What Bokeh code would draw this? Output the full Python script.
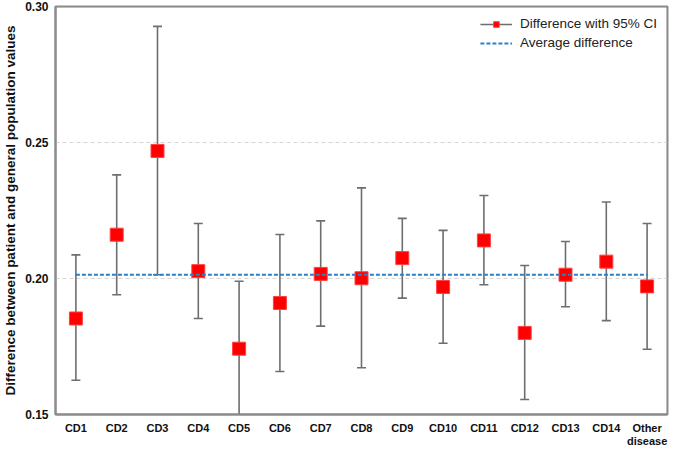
from bokeh.plotting import figure
from bokeh.models import (ColumnDataSource, Whisker, TeeHead, Legend, LegendItem,
                          FixedTicker, NumeralTickFormatter, FactorRange, Range1d, BoxAnnotation)
from bokeh.embed import file_html
from bokeh.resources import INLINE

categories = ["CD1", "CD2", "CD3", "CD4", "CD5", "CD6", "CD7", "CD8", "CD9", "CD10",
              "CD11", "CD12", "CD13", "CD14", "Other\ndisease"]
difference = [0.1853, 0.2161, 0.2469, 0.2027, 0.1742, 0.1910, 0.2017, 0.2001, 0.2075, 0.1969,
              0.2140, 0.1800, 0.2014, 0.2062, 0.1971]
ci_lower = [0.1626, 0.1940, 0.2014, 0.1853, 0.1440, 0.1658, 0.1825, 0.1672, 0.1928, 0.1762,
            0.1977, 0.1555, 0.1896, 0.1845, 0.1740]
ci_upper = [0.2087, 0.2381, 0.2927, 0.2202, 0.1990, 0.2162, 0.2212, 0.2333, 0.2221, 0.2177,
            0.2305, 0.2048, 0.2136, 0.2281, 0.2202]
average_difference = 0.2014
y_ticks = [0.15, 0.20, 0.25, 0.30]

FONT = "Liberation Sans"
GREY = "#6e6e6e"

src = ColumnDataSource(data=dict(x=categories, y=difference, lo=ci_lower, hi=ci_upper))

p = figure(width=669, height=449, x_range=FactorRange(*categories, range_padding=0.0),
           y_range=Range1d(0.15, 0.30), output_backend="svg", toolbar_location=None,
           min_border_left=2, min_border_right=2, min_border_top=6, min_border_bottom=0)

# frame border (full-frame box, no fill)
p.add_layout(BoxAnnotation(fill_alpha=0, line_color="#8c8c8c", line_width=2, level="underlay"))

# error bars
w = Whisker(source=src, base="x", lower="lo", upper="hi", line_color=GREY, line_width=1.6,
            upper_head=TeeHead(size=9, line_color=GREY, line_width=1.6),
            lower_head=TeeHead(size=9, line_color=GREY, line_width=1.6))
p.add_layout(w)

pts = p.scatter(x="x", y="y", source=src, marker="square", size=13,
                fill_color="#FF0000", line_color="#FF4040", line_width=1)

avg = p.line(x=[categories[0], categories[-1]], y=[average_difference, average_difference],
             line_color="#2E7FC4", line_width=2, line_dash="4 2")

# legend proxy line for the error bars (single point, draws nothing in the plot)
legend_line = p.line(x=[categories[0]], y=[average_difference], line_color=GREY, line_width=1.6)

legend = Legend(items=[
    LegendItem(label="Difference with 95% CI", renderers=[legend_line, pts]),
    LegendItem(label="Average difference", renderers=[avg]),
], location="top_right", border_line_color=None, background_fill_alpha=0,
    label_text_font=FONT, label_text_font_size="13.5px", label_text_color="#222222",
    glyph_width=32, glyph_height=14, spacing=4, padding=4, margin=10,
    label_standoff=8)
p.add_layout(legend)

# axes
p.yaxis.ticker = FixedTicker(ticks=y_ticks)
p.yaxis.formatter = NumeralTickFormatter(format="0.00")
p.yaxis.axis_label = "Difference between patient and general population values"
p.xaxis.axis_label = None
p.xaxis.axis_label_standoff = 0
for ax in (p.xaxis, p.yaxis):
    ax.axis_line_color = "#8c8c8c"
    ax.axis_line_width = 2
    ax.major_tick_line_color = None
    ax.minor_tick_line_color = None
    ax.major_tick_out = 0
    ax.major_tick_in = 0
    ax.minor_tick_out = 0
    ax.major_label_text_font = FONT
    ax.major_label_text_font_style = "bold"
    ax.major_label_text_font_size = "11px"
    ax.major_label_text_color = "#111111"
p.xaxis.major_label_text_line_height = 1.1
p.yaxis.major_label_text_font_size = "12px"
p.yaxis.axis_label_text_font = FONT
p.yaxis.axis_label_text_font_style = "bold"
p.yaxis.axis_label_text_font_size = "13.5px"
p.yaxis.axis_label_text_color = "#111111"
p.yaxis.axis_label_standoff = 4
p.yaxis.major_label_standoff = 7
p.xaxis.major_label_standoff = 7

p.xgrid.grid_line_color = None
p.ygrid.grid_line_color = "#d4d4d4"
p.ygrid.grid_line_dash = "4 3"
p.ygrid.grid_line_width = 1

p.outline_line_color = "#8c8c8c"
p.outline_line_width = 2
p.background_fill_color = "white"
p.border_fill_color = "white"

open("out.html", "w").write(file_html(p, INLINE))
